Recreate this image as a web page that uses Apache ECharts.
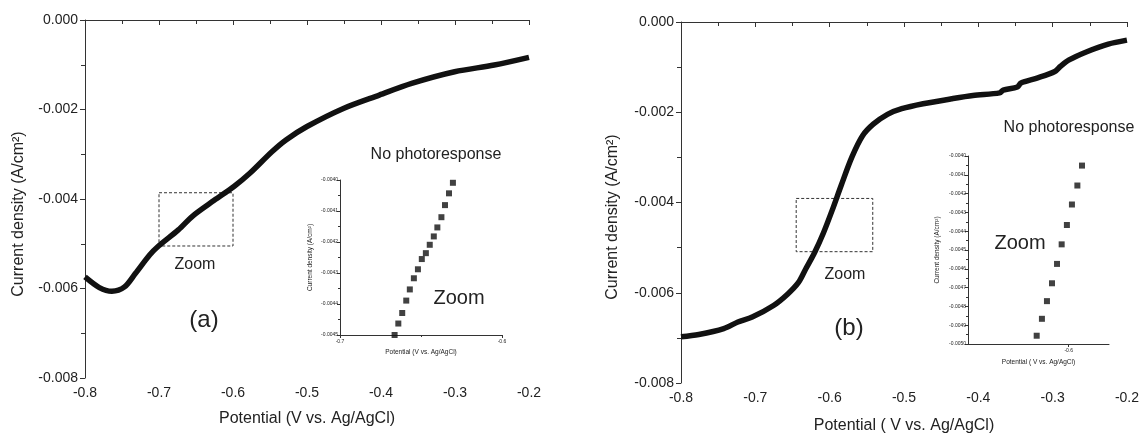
<!DOCTYPE html>
<html>
<head>
<meta charset="utf-8">
<script src="https://cdn.jsdelivr.net/npm/echarts@6/dist/echarts.min.js"></script>
<style>
  html, body { margin: 0; padding: 0; background: #fff; }
  #chart { width: 1142px; height: 439px; }
</style>
</head>
<body>
<div id="chart"></div>
<script>
// Panel (a): current density vs potential
const aPotential = [-0.8, -0.7806, -0.7636, -0.7466, -0.732, -0.7127, -0.7006, -0.6739, -0.6545, -0.6254, -0.5987, -0.5769, -0.5478, -0.5284, -0.5, -0.4508, -0.4023, -0.3586, -0.3005, -0.247, -0.2];
const aCurrent   = [-0.005741, -0.005979, -0.006061, -0.005964, -0.005666, -0.005250, -0.005050, -0.004690, -0.004380, -0.004030, -0.003720, -0.003420, -0.002950, -0.002680, -0.002380, -0.001976, -0.001677, -0.001416, -0.001156, -0.001006, -0.000834];

// Panel (b): current density vs potential
const bPotential = [-0.8, -0.776, -0.7425, -0.7234, -0.7042, -0.6755, -0.6563, -0.6419, -0.6324, -0.6204, -0.6084, -0.5964, -0.5844, -0.5701, -0.5557, -0.5413, -0.5222, -0.503, -0.4743, -0.436, -0.4072, -0.3713, -0.3665, -0.3474, -0.3426, -0.321, -0.297, -0.2898, -0.2778, -0.2539, -0.2251, -0.2];
const bCurrent   = [-0.006977, -0.006926, -0.006795, -0.006648, -0.006539, -0.006283, -0.006027, -0.005772, -0.005480, -0.005114, -0.004676, -0.004164, -0.003616, -0.002995, -0.002521, -0.002265, -0.002046, -0.001921, -0.001812, -0.001702, -0.001629, -0.001571, -0.001512, -0.001439, -0.001352, -0.001242, -0.001096, -0.000986, -0.000840, -0.000658, -0.000490, -0.000402];

// Magnified points (insets)
const zoomAPotential = [-0.6663, -0.6640, -0.6616, -0.6591, -0.6569, -0.6544, -0.6519, -0.6495, -0.6470, -0.6446, -0.6421, -0.6399, -0.6374, -0.6352, -0.6327, -0.6303];
const zoomACurrent   = [-0.00450, -0.004463, -0.004429, -0.004389, -0.004353, -0.004317, -0.004288, -0.004255, -0.004236, -0.004209, -0.004182, -0.004153, -0.004120, -0.004081, -0.004043, -0.004009];
const zoomBPotential = [-0.6159, -0.6133, -0.6108, -0.6083, -0.6058, -0.6035, -0.6009, -0.5984, -0.5957, -0.5934];
const zoomBCurrent   = [-0.004956, -0.004866, -0.004772, -0.004677, -0.004574, -0.004470, -0.004367, -0.004258, -0.004157, -0.004051];

// Dashed zoom windows [x1, x2, y1, y2]
const zoomBoxA = [-0.70, -0.60, -0.00386, -0.00505];
const zoomBoxB = [-0.645, -0.542, -0.00391, -0.00509];

// Text
const yTitle = 'Current density (A/cm²)';
const xTitleA = 'Potential (V vs. Ag/AgCl)';
const xTitleB = 'Potential ( V vs. Ag/AgCl)';
const panelLabels = ['(a)', '(b)'];
const noteText = 'No photoresponse';
const zoomText = 'Zoom';

const FONT = 'Liberation Sans, Arial, sans-serif';
const TXT = '#222';
const AX = '#333';

const pairs = (xs, ys) => xs.map((x, i) => [x, ys[i]]);

function mainX(gridIndex, name, gap) {
  return {
    type: 'value', gridIndex, min: -0.8, max: -0.2, interval: 0.1,
    name, nameLocation: 'middle', nameGap: gap,
    nameTextStyle: { fontFamily: FONT, fontSize: 16, color: TXT },
    axisLine: { show: true, lineStyle: { color: AX, width: 1 } },
    axisTick: { show: true, inside: false, length: 5, lineStyle: { color: AX } },
    minorTick: { show: true, splitNumber: 2, length: 4, lineStyle: { color: AX } },
    axisLabel: { fontFamily: FONT, fontSize: 14, color: TXT, margin: 8, formatter: v => v.toFixed(1) },
    splitLine: { show: false }
  };
}
function mainY(gridIndex) {
  return {
    type: 'value', gridIndex, min: -0.008, max: 0, interval: 0.002,
    axisLine: { show: true, lineStyle: { color: AX, width: 1 } },
    axisTick: { show: true, inside: false, length: 5, lineStyle: { color: AX } },
    minorTick: { show: true, splitNumber: 2, length: 4, lineStyle: { color: AX } },
    axisLabel: { fontFamily: FONT, fontSize: 14, color: TXT, margin: 7, formatter: v => v.toFixed(3) },
    splitLine: { show: false }
  };
}
function insetStyle(extra) {
  return Object.assign({
    type: 'value',
    nameLocation: 'middle',
    nameTextStyle: { fontFamily: FONT, fontSize: 6.5, color: TXT },
    axisLine: { show: true, lineStyle: { color: AX, width: 1 } },
    axisTick: { show: true, inside: false, length: 3, lineStyle: { color: AX } },
    minorTick: { show: true, splitNumber: 2, length: 2, lineStyle: { color: AX } },
    splitLine: { show: false }
  }, extra);
}
function zoomBox(b) {
  return {
    silent: true,
    itemStyle: { color: 'rgba(0,0,0,0)', borderColor: AX, borderWidth: 1, borderType: [3, 2] },
    data: [[{ coord: [b[0], b[2]] }, { coord: [b[1], b[3]] }]]
  };
}
function text(str, x, y, size, rot) {
  return {
    type: 'text', x, y, rotation: rot || 0, silent: true,
    style: { text: str, fontFamily: FONT, fontSize: size, fill: TXT, align: 'center', verticalAlign: 'middle' }
  };
}

const chart = echarts.init(document.getElementById('chart'), null, { renderer: 'canvas' });
chart.setOption({
  animation: false,
  backgroundColor: '#fff',
  grid: [
    { left: 85, top: 20, width: 444, height: 358 },
    { left: 340, top: 180, width: 162, height: 155 },
    { left: 681, top: 22, width: 450, height: 365 },
    { left: 968, top: 156, width: 141, height: 188 }
  ],
  xAxis: [
    mainX(0, xTitleA, 33),
    insetStyle({
      gridIndex: 1, min: -0.7, max: -0.6, interval: 0.1,
      name: xTitleA, nameGap: 14,
      axisLabel: { fontFamily: FONT, fontSize: 5, color: TXT, margin: 4, formatter: v => v.toFixed(1) }
    }),
    mainX(2, xTitleB, 35),
    insetStyle({
      gridIndex: 3, min: -0.65, max: -0.58,
      name: xTitleB, nameGap: 15,
      axisTick: { show: true, inside: false, length: 3, customValues: [-0.6], lineStyle: { color: AX } },
      minorTick: { show: false },
      axisLabel: { fontFamily: FONT, fontSize: 5, color: TXT, margin: 4, customValues: [-0.6], formatter: v => v.toFixed(1) }
    })
  ],
  yAxis: [
    mainY(0),
    insetStyle({
      gridIndex: 1, min: -0.0045, max: -0.0040, interval: 0.0001,
      name: yTitle, nameGap: 26,
      axisLabel: { fontFamily: FONT, fontSize: 5, color: TXT, margin: 2, formatter: v => v.toFixed(4) }
    }),
    mainY(2),
    insetStyle({
      gridIndex: 3, min: -0.0050, max: -0.0040, interval: 0.0001,
      name: yTitle, nameGap: 27,
      axisLabel: { fontFamily: FONT, fontSize: 5, color: TXT, margin: 2, formatter: v => v.toFixed(4) }
    })
  ],
  series: [
    {
      type: 'line', xAxisIndex: 0, yAxisIndex: 0, data: pairs(aPotential, aCurrent),
      showSymbol: false, smooth: 0.3, lineStyle: { color: '#111', width: 5.5 },
      markArea: zoomBox(zoomBoxA), z: 3
    },
    {
      type: 'scatter', xAxisIndex: 1, yAxisIndex: 1, data: pairs(zoomAPotential, zoomACurrent),
      symbol: 'rect', symbolSize: 6, itemStyle: { color: '#111' }
    },
    {
      type: 'line', xAxisIndex: 2, yAxisIndex: 2, data: pairs(bPotential, bCurrent),
      showSymbol: false, smooth: 0.3, lineStyle: { color: '#111', width: 5.5 },
      markArea: zoomBox(zoomBoxB), z: 3
    },
    {
      type: 'scatter', xAxisIndex: 3, yAxisIndex: 3, data: pairs(zoomBPotential, zoomBCurrent),
      symbol: 'rect', symbolSize: 6, itemStyle: { color: '#111' }
    }
  ],
  graphic: [
    text(yTitle, 19, 214, 16, Math.PI / 2),
    text(yTitle, 613, 217, 16, Math.PI / 2),
    text(zoomText, 195, 265, 16),
    text(panelLabels[0], 204, 320, 24),
    text(noteText, 436, 155, 16),
    text(zoomText, 459, 298, 20),
    text(zoomText, 845, 275, 16),
    text(panelLabels[1], 849, 328, 24),
    text(noteText, 1069, 128, 16),
    text(zoomText, 1020, 243, 20)
  ]
});
</script>
</body>
</html>
